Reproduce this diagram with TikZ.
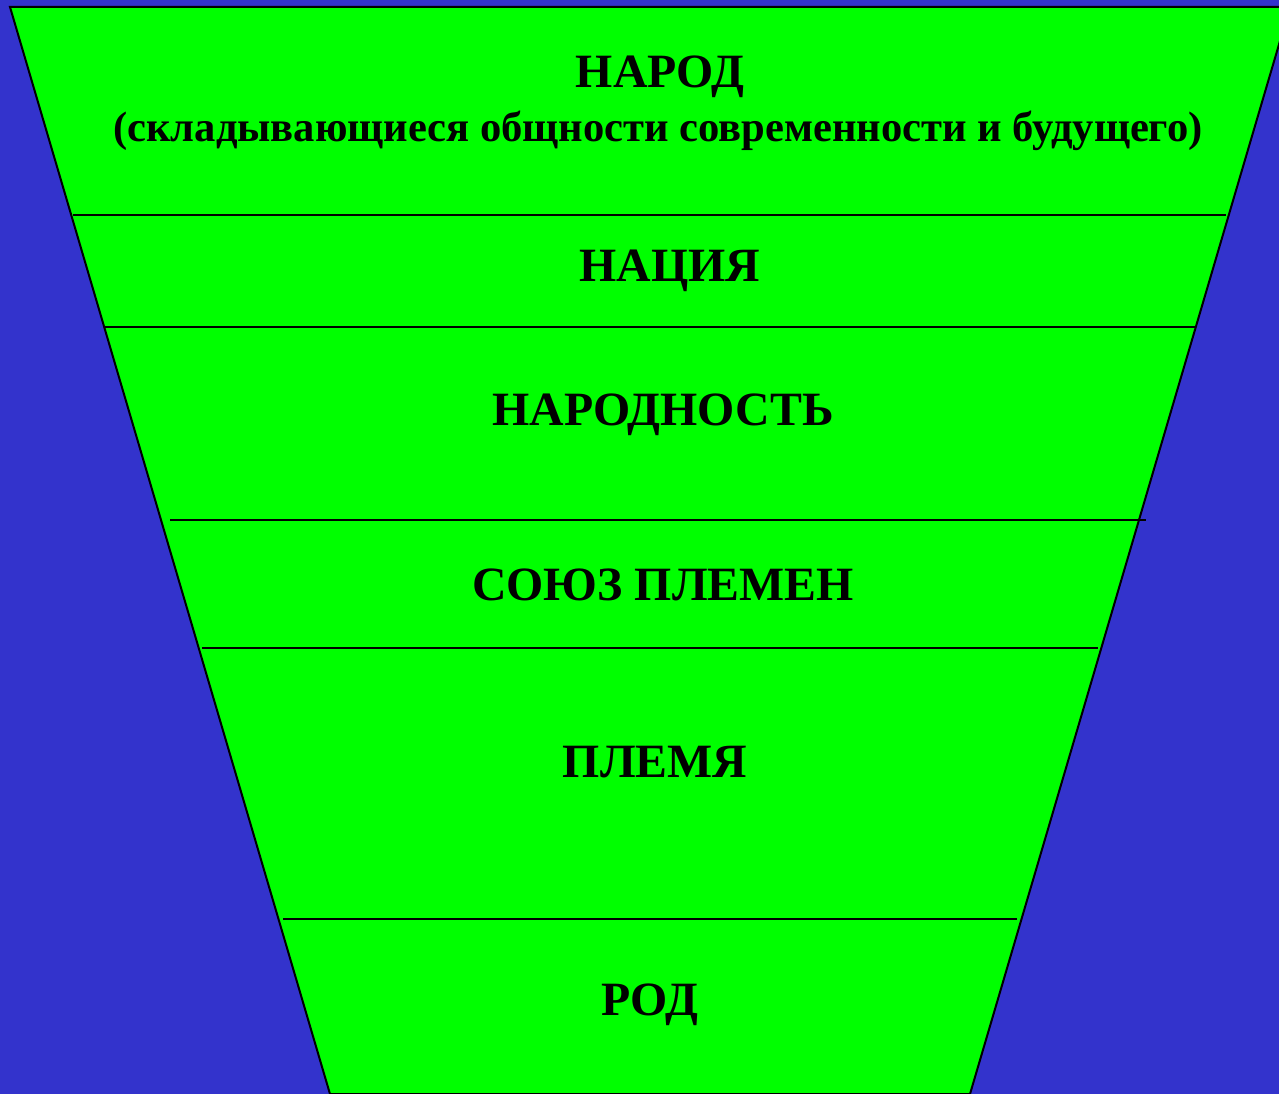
\documentclass[tikz,border=0pt]{standalone}
\usepackage{fontspec}
\setmainfont{Liberation Serif}
\definecolor{bgblue}{RGB}{51,51,204}
\definecolor{fgreen}{RGB}{0,255,0}
\tikzset{
  lbl/.style={anchor=base, inner sep=0pt, font=\bfseries\fontsize{47.8}{56}\selectfont},
  sublbl/.style={anchor=base, inner sep=0pt, font=\bfseries\fontsize{42.6}{50}\selectfont},
  sep/.style={draw=black, line width=1.6pt}
}
\begin{document}
\begin{tikzpicture}[x=1pt,y=-1pt]
\useasboundingbox (0,0) rectangle (1279,1094);
\fill[bgblue] (0,0) rectangle (1279,1094);
\begin{scope}
\clip (0,0) rectangle (1279,1094);
\coordinate (tl) at (10,7);
\coordinate (tr) at (1290,7);
\coordinate (br) at (970,1094);
\coordinate (bl) at (330,1094);
\filldraw[fill=fgreen, draw=black, line width=2pt] (tl) -- (tr) -- (br) -- (bl) -- cycle;
\end{scope}
\coordinate (a1) at (73,215);   \coordinate (b1) at (1226,215);
\coordinate (a2) at (105,327);  \coordinate (b2) at (1195,327);
\coordinate (a3) at (170,520);  \coordinate (b3) at (1146,520);
\coordinate (a4) at (202,648);  \coordinate (b4) at (1098,648);
\coordinate (a5) at (283,919);  \coordinate (b5) at (1017,919);
\draw[sep] (a1) -- (b1);
\draw[sep] (a2) -- (b2);
\draw[sep] (a3) -- (b3);
\draw[sep] (a4) -- (b4);
\draw[sep] (a5) -- (b5);
\node[lbl] (narod) at (660,88) {НАРОД};
\node[sublbl] (narodsub) at (658,142) {(складывающиеся общности современности и будущего)};
\node[lbl] (nacia) at (670,281) {НАЦИЯ};
\node[lbl] (narodnost) at (663,425) {НАРОДНОСТЬ};
\node[lbl] (soyuz) at (663,600) {СОЮЗ ПЛЕМЕН};
\node[lbl] (plemya) at (655,777) {ПЛЕМЯ};
\node[lbl] (rod) at (650,1015) {РОД};
\end{tikzpicture}
\end{document}
